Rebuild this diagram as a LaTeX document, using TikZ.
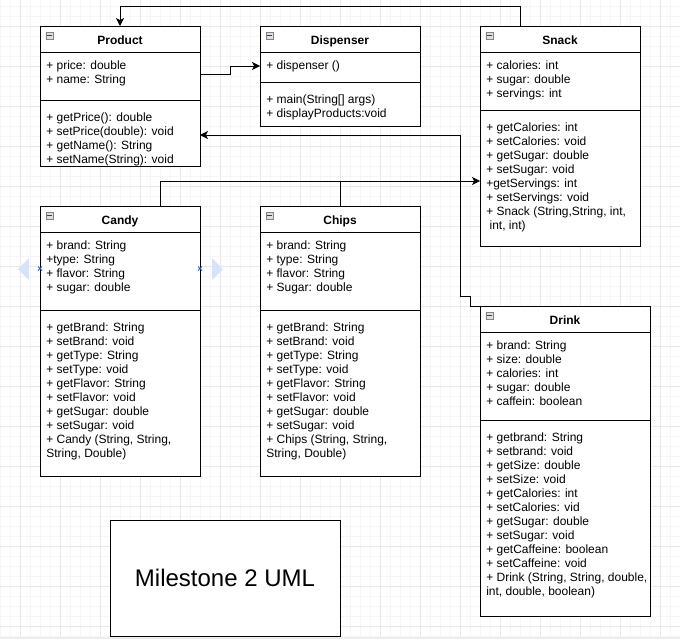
\documentclass[tikz,border=0pt]{standalone}
\usepackage{fontspec}
\setmainfont{Liberation Sans}
\usetikzlibrary{calc,arrows.meta}
\definecolor{gridminor}{RGB}{246,246,246}
\definecolor{gridmajor}{RGB}{232,232,232}
\definecolor{hoverblue}{RGB}{214,228,248}
\definecolor{pointblue}{RGB}{30,100,220}
\definecolor{icongray}{RGB}{130,130,135}
\definecolor{iconfill}{RGB}{222,222,226}
\tikzset{
  classbox/.style={draw=black, fill=white, line width=0.75pt, inner sep=0pt, outer sep=0pt, anchor=north west},
  member/.style={anchor=base west, inner sep=0pt, font=\fontsize{9pt}{10.5pt}\selectfont},
  classtitle/.style={anchor=base, inner sep=0pt, font=\fontsize{9pt}{10.5pt}\selectfont\bfseries},
  divider/.style={draw=black, line width=0.75pt},
  conn/.style={draw=black, line width=0.75pt, -{Stealth[length=6pt,width=6pt,inset=1.6pt]}},
  plainconn/.style={draw=black, line width=0.75pt},
  minusicon/.style={draw=icongray, fill=iconfill, line width=0.4pt, minimum size=5.4pt, inner sep=0pt, outer sep=0pt,
    path picture={\draw[black!75, line width=0.6pt] ([xshift=1.1pt]path picture bounding box.west) -- ([xshift=-1.1pt]path picture bounding box.east);}},
  minorgrid/.style={draw=gridminor, line width=0.75pt},
  majorgrid/.style={draw=gridmajor, line width=0.75pt},
  pointmark/.style={draw=pointblue, line width=0.7pt},
}
\newcommand\classparts[3]{%
  \node[classtitle] (#1-title) at ($(#1.north)+(0,18.5)$) {#2};
  \node[minusicon] (#1-icon) at ($(#1.north west)+(9.5,9.5)$) {};
  \draw[divider] ($(#1.north west)+(0,26)$) -- ($(#1.north east)+(0,26)$);
  \draw[divider] ($(#1.north west)+(0,#3)$) -- ($(#1.north east)+(0,#3)$);
}
\newcommand\memberlist[4]{%
  \foreach \txt [count=\i] in {#4} {
    \node[member] (#2-\i) at ($(#1.north west)+(6,{#3+14*(\i-1)})$) {\txt};
  }
}
\begin{document}
\begin{tikzpicture}[x=0.75pt, y=-0.75pt]
\useasboundingbox (0,0) rectangle (680,639);
\fill[white] (0,0) rectangle (680,639);
% grid
\foreach \x in {0,10,...,680} \draw[minorgrid] (\x,0) -- (\x,639);
\foreach \y in {6,16,...,636} \draw[minorgrid] (0,\y) -- (680,\y);
\foreach \x in {20,60,...,660} \draw[majorgrid] (\x,0) -- (\x,639);
\foreach \y in {26,66,...,626} \draw[majorgrid] (0,\y) -- (680,\y);
\fill[gray!14] (0,636.5) rectangle (680,639);

% boxes
\node[classbox, minimum width=120pt, minimum height=105pt] (product) at (40,26) {};
\node[classbox, minimum width=120pt, minimum height=75pt] (dispenser) at (260,26) {};
\node[classbox, minimum width=120pt, minimum height=165pt] (snack) at (480,26) {};
\node[classbox, minimum width=120pt, minimum height=202.5pt] (candy) at (40,206) {};
\node[classbox, minimum width=120pt, minimum height=202.5pt] (chips) at (260,206) {};
\node[classbox, minimum width=127.5pt, minimum height=232.5pt] (drink) at (480,306) {};
\node[classbox, minimum width=172.5pt, minimum height=87pt] (milestone) at (110,520) {};
\node[inner sep=0pt, font=\fontsize{18pt}{21pt}\selectfont] (milestone-text) at (milestone.center) {Milestone 2 UML};

\classparts{product}{Product}{74}
\classparts{dispenser}{Dispenser}{56}
\classparts{snack}{Snack}{84}
\classparts{candy}{Candy}{104}
\classparts{chips}{Chips}{104}
\classparts{drink}{Drink}{114}

\memberlist{product}{product-a}{43.5}{{+ price: double},{+ name: String}}
\memberlist{product}{product-m}{95.5}{{+ getPrice(): double},{+ setPrice(double): void},{+ getName(): String},{+ setName(String): void}}

\memberlist{dispenser}{dispenser-a}{43.5}{{+ dispenser ()}}
\memberlist{dispenser}{dispenser-m}{77.5}{{+ main(String[] args)},{+ displayProducts:void}}

\memberlist{snack}{snack-a}{43.5}{{+ calories: int},{+ sugar: double},{+ servings: int}}
\memberlist{snack}{snack-m}{105.5}{{+ getCalories: int},{+ setCalories: void},{+ getSugar: double},{+ setSugar: void},{+getServings: int},{+ setServings: void},{+ Snack (String,String, int,},{\ int, int)}}

\memberlist{candy}{candy-a}{43.5}{{+ brand: String},{+type: String},{+ flavor: String},{+ sugar: double}}
\memberlist{candy}{candy-m}{125.5}{{+ getBrand: String},{+ setBrand: void},{+ getType: String},{+ setType: void},{+ getFlavor: String},{+ setFlavor: void},{+ getSugar: double},{+ setSugar: void},{+ Candy (String, String,},{String, Double)}}

\memberlist{chips}{chips-a}{43.5}{{+ brand: String},{+ type: String},{+ flavor: String},{+ Sugar: double}}
\memberlist{chips}{chips-m}{125.5}{{+ getBrand: String},{+ setBrand: void},{+ getType: String},{+ setType: void},{+ getFlavor: String},{+ setFlavor: void},{+ getSugar: double},{+ setSugar: void},{+ Chips (String, String,},{String, Double)}}

\memberlist{drink}{drink-a}{43.5}{{+ brand: String},{+ size: double},{+ calories: int},{+ sugar: double},{+ caffein: boolean}}
\memberlist{drink}{drink-m}{135.5}{{+ getbrand: String},{+ setbrand: void},{+ getSize: double},{+ setSize: void},{+ getCalories: int},{+ setCalories: vid},{+ getSugar: double},{+ setSugar: void},{+ getCaffeine: boolean},{+ setCaffeine: void},{+ Drink (String, String, double,},{int, double, boolean)}}

% connectors
\coordinate (join) at ($(snack.north west)+(0,155)$);
\draw[conn] ($(snack.north west)+(40,0)$) -- ++(0,-20) -| (product.north);
\draw[conn] ($(product.north east)+(0,48)$) -- ++(30,0) |- ($(dispenser.north west)+(0,40)$);
\draw[conn] (drink.north west) -- ++(-10,0) -- ++(0,-10) -- ++(-10,0) |- ($(product.north east)+(0,109)$);
\draw[conn] ($(candy.north west)+(120,0)$) |- (join);
\draw[plainconn] (chips.north) -- (chips.north |- join);

% hover handles around Candy
\fill[hoverblue] (18,269) -- (29,258) -- (29,280) -- cycle;
\fill[hoverblue] (223,269) -- (212,258) -- (212,280) -- cycle;
\draw[pointmark] (38,266.5) -- (42,270.5) (38,270.5) -- (42,266.5);
\draw[pointmark] (198,266.5) -- (202,270.5) (198,270.5) -- (202,266.5);
\end{tikzpicture}
\end{document}
